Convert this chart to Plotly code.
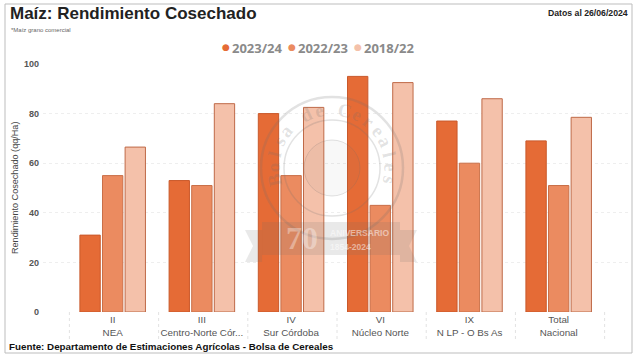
import math
import plotly.graph_objects as go

W, H = 639, 359
L, R, T, B = 43, 11, 64, 47

categories = ["II<br>NEA", "III<br>Centro-Norte Cór...", "IV<br>Sur Córdoba",
              "VI<br>Núcleo Norte", "IX<br>N LP - O Bs As", "Total<br>Nacional"]
s2324 = [31, 53, 80, 95, 77, 69]
s2223 = [55, 51, 55, 43, 60, 51]
s1822 = [66.5, 84, 82.5, 92.5, 86, 78.5]
series = [("2023/24", s2324, "#E56B36", "#C9592B"),
          ("2022/23", s2223, "#EB8B60", "#C96F48"),
          ("2018/22", s1822, "#F4C1AA", "#BF6A48")]
yticks = [0, 20, 40, 60, 80, 100]

def px(x): return (x - L) / (W - L - R)
def py(y): return 1 - (y - T) / (H - T - B)

fig = go.Figure()
for name, vals, col, edge in series:
    fig.add_bar(x=list(range(len(categories))), y=vals, name=name, marker_color=col,
                marker_line_color=edge, marker_line_width=1)

shapes = []
# outer frame
shapes.append(dict(type="rect", xref="paper", yref="paper", x0=px(5), x1=px(632), y0=py(353), y1=py(4),
                   line=dict(color="#BDBDBD", width=1)))
# category separators below the axis
for i in range(len(categories) + 1):
    shapes.append(dict(type="line", xref="x", yref="paper", x0=i - 0.485, x1=i - 0.485, y0=0, y1=py(340),
                       line=dict(color="#E2E2E2", width=1, dash="dot")))
# watermark
WM = "rgba(110,110,110,0.20)"
cx, cy = 332, 168
for r, w in [(71, 2.5), (48, 1.5)]:
    shapes.append(dict(type="circle", xref="paper", yref="paper", x0=px(cx - r), x1=px(cx + r),
                       y0=py(cy + r), y1=py(cy - r), line=dict(color=WM, width=w), layer="above"))
shapes.append(dict(type="circle", xref="paper", yref="paper", x0=px(cx - 28), x1=px(cx + 28),
                   y0=py(cy + 28), y1=py(cy - 28), fillcolor="rgba(110,110,110,0.05)",
                   line=dict(color=WM, width=1), layer="above"))
BAND = "rgba(110,110,110,0.15)"
shapes.append(dict(type="rect", xref="paper", yref="paper", x0=px(262), x1=px(400), y0=py(255), y1=py(222),
                   fillcolor=BAND, line_width=0, layer="above"))
def poly(points):
    return "M" + " L".join(f"{px(a):.4f},{py(b):.4f}" for a, b in points) + " Z"
for pts in ([(262, 230), (245, 230), (253, 246), (245, 262), (262, 262)],
            [(400, 230), (417, 230), (409, 246), (417, 262), (400, 262)]):
    shapes.append(dict(type="path", xref="paper", yref="paper", path=poly(pts), fillcolor=BAND,
                       line_width=0, layer="above"))

ann = []
def text(x, y, s, size, color, anchor="left", family="Liberation Sans", angle=0):
    ann.append(dict(xref="paper", yref="paper", x=px(x), y=py(y), text=s, showarrow=False, xanchor=anchor,
                    yanchor="middle", textangle=angle, font=dict(size=size, color=color, family=family)))

text(8, 14, "<b>Maíz: Rendimiento Cosechado</b>", 17, "#222222")
text(9, 30, "*Maíz grano comercial", 6, "#666666")
text(630, 13, "<b>Datos al 26/06/2024</b>", 8.7, "#222222", anchor="right")
text(7, 346, "<b>Fuente: Departamento de Estimaciones Agrícolas - Bolsa de Cereales</b>", 9.8, "#111111")
text(15, 188, "Rendimiento Cosechado (qq/Ha)", 9.1, "#444444", anchor="center", angle=-90)
# legend
for (n, _, c, _), dx, tx in zip(series, [225.7, 292, 358], [232, 298, 364]):
    text(dx, 47, "●", 9, c, anchor="center", family="DejaVu Sans")
    text(tx - 2, 48, f"<b>{n}</b>", 13, "#8A8A8A", family="Open Sans")

# watermark lettering
arc = "Bolsa de Cereales"
n = len(arc)
for i, ch in enumerate(arc):
    a = math.radians(-102 + 204 * i / (n - 1))
    text(cx + 59 * math.sin(a), cy - 59 * math.cos(a), f"<b>{ch}</b>", 19, WM, anchor="center",
         angle=math.degrees(a), family="Liberation Serif")
text(302, 238, "<b>70</b>", 32, "rgba(255,255,255,0.35)", anchor="center", family="Liberation Serif")
text(328, 233, "<b>ANIVERSARIO</b>", 8.5, "rgba(255,255,255,0.5)")
text(328, 247, "<b>1854-2024</b>", 8.5, "rgba(255,255,255,0.5)")

fig.update_layout(
    width=W, height=H, margin=dict(l=L, r=R, t=T, b=B, autoexpand=False),
    paper_bgcolor="white", plot_bgcolor="white", showlegend=False,
    barmode="group", bargap=0.24, bargroupgap=0.1,
    shapes=shapes, annotations=ann,
    font=dict(family="Liberation Sans", color="#555555"),
    xaxis=dict(tickmode="array", tickvals=list(range(len(categories))), ticktext=categories,
               range=[-0.781, 5.777], showgrid=False, zeroline=False, ticks="",
               tickfont=dict(size=9.8, color="#555555"), showline=False),
    yaxis=dict(range=[0, 100], tickmode="array", tickvals=yticks, ticktext=[f"<b>{v}</b>" for v in yticks],
               showgrid=True, griddash="dot", gridcolor="#EEEEEE",
               gridwidth=1, zeroline=False, ticks="", tickfont=dict(size=9, color="#555555"),
               showline=False, ticklabelstandoff=3),
)
fig.write_html("out.html", config={"displayModeBar": False},
               post_script="document.body.style.margin='0';document.documentElement.style.overflow='hidden';")
